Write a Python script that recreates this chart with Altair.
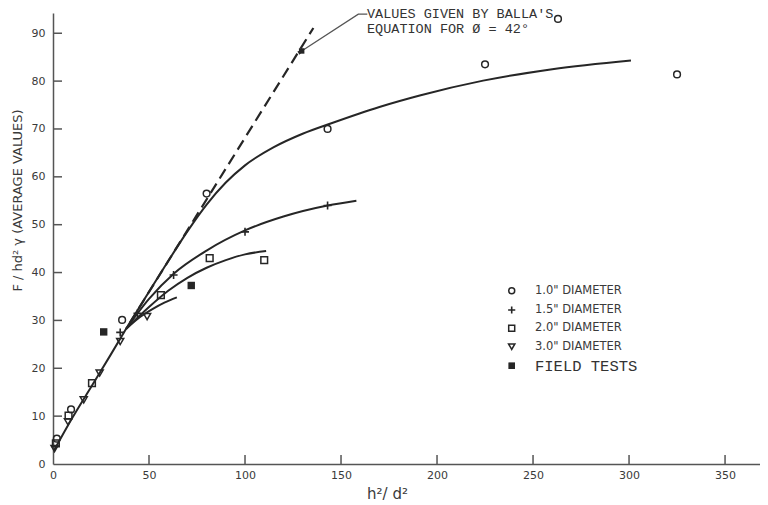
import altair as alt
import pandas as pd

# ---------------- data ----------------
# measured points (x = h^2/d^2, y = F/hd^2 gamma)
d10_x = [2, 9.4, 36, 80, 143, 225, 263, 325]
d10_y = [5.3, 11.4, 30.1, 56.5, 70, 83.5, 93, 81.4]
d15_x = [35, 44, 62.8, 100, 143]
d15_y = [27.5, 31.5, 39.5, 48.5, 54]
d20_x = [1.5, 8.1, 20.3, 56.2, 81.6, 110]
d20_y = [4.3, 10.1, 16.9, 35.3, 43, 42.6]
d30_x = [0.8, 7.8, 16, 24.3, 35, 49]
d30_y = [3.2, 8.8, 13.4, 19, 25.6, 30.8]
field_x = [26.4, 72]
field_y = [27.6, 37.3]
balla_x = [129.5]
balla_y = [86.3]

# fitted curves
trunk_x = [0.5, 10, 20, 30, 38]
trunk_y = [2.8, 9.6, 16.2, 22.8, 28.2]
fit10_x = [38, 50, 60, 70, 80, 90, 100, 115, 130, 145, 170, 191, 224, 260, 301]
fit10_y = [28.2, 36.0, 42.4, 48.6, 54.2, 58.8, 62.4, 66.2, 69.0, 71.2, 74.6, 77.0, 80.1, 82.5, 84.3]
fit15_x = [38, 50, 63, 80, 100, 120, 143, 158]
fit15_y = [28.2, 34.5, 39.8, 44.6, 48.8, 51.7, 54.0, 55.0]
fit20_x = [38, 50, 60, 70, 80, 90, 100, 111]
fit20_y = [28.2, 32.8, 36.2, 38.9, 41.0, 42.6, 43.8, 44.5]
fit30_x = [38, 45, 52, 58, 64.5]
fit30_y = [28.2, 30.6, 32.4, 33.7, 34.8]
balla_line_x = [40, 135.6]
balla_line_y = [29.5, 91.1]

# annotation leader (data coordinates)
lead_x = [163.7, 159, 129.5]
lead_y = [94.0, 94.0, 86.3]

# axis ticks / labels
x_ticks = [0, 50, 100, 150, 200, 250, 300, 350]
y_ticks = [0, 10, 20, 30, 40, 50, 60, 70, 80, 90]

legend_labels = ['1.0" DIAMETER', '1.5" DIAMETER', '2.0" DIAMETER', '3.0" DIAMETER', 'FIELD TESTS']
annot_lines = ["VALUES GIVEN BY BALLA'S", "EQUATION FOR Ø = 42°"]

# ---------------- chart ----------------
W, H = 707, 451
XMAX, YMAX = 368.2, 94.23
INK = "#262626"
TXT = "#3a3a3a"
SANS = "DejaVu Sans"
MONO = "Liberation Mono"

xs = alt.Scale(domain=[0, XMAX], nice=False, zero=False)
ys = alt.Scale(domain=[0, YMAX], nice=False, zero=False)

x_axis = alt.Axis(values=x_ticks, ticks=False, tickSize=0, grid=False, labelPadding=5,
                  labelFontSize=11, labelFont=SANS, labelColor=TXT, labelFlush=False,
                  domainColor="#555555", domainWidth=1.5,
                  title="h²/ d²", titleX=334, titleY=29, titleFontSize=15,
                  titleFontWeight="normal", titleColor=TXT, titleFont=SANS,
                  titleBaseline="middle", titleAlign="center")
y_axis = alt.Axis(values=y_ticks, ticks=False, tickSize=0, grid=False, labelPadding=8,
                  labelFontSize=11, labelFont=SANS, labelColor=TXT, labelFlush=False,
                  domainColor="#555555", domainWidth=1.5,
                  title="F / hd² γ  (AVERAGE VALUES)", titleX=-36, titleY=187,
                  titleAngle=270, titleFontSize=13, titleFontWeight="normal",
                  titleColor=TXT, titleFont=SANS, titleBaseline="middle", titleAlign="center")


def df(xv, yv):
    return pd.DataFrame({"x": xv, "y": yv})


def enc(chart):
    return chart.encode(x=alt.X("x:Q", scale=xs), y=alt.Y("y:Q", scale=ys))


base_axes = alt.Chart(df([0], [0])).mark_point(opacity=0).encode(
    x=alt.X("x:Q", scale=xs, axis=x_axis), y=alt.Y("y:Q", scale=ys, axis=y_axis))

layers = [base_axes]

# inward tick marks
layers.append(alt.Chart(pd.DataFrame({"x": x_ticks[1:]})).mark_rule(color="#555555", strokeWidth=1.5)
              .encode(x=alt.X("x:Q", scale=xs), y=alt.value(H), y2=alt.value(H - 9)))
layers.append(alt.Chart(pd.DataFrame({"y": y_ticks[1:]})).mark_rule(color="#555555", strokeWidth=1.5)
              .encode(y=alt.Y("y:Q", scale=ys), x=alt.value(0), x2=alt.value(9)))

# curves
for cx, cy in [(trunk_x, trunk_y), (fit10_x, fit10_y), (fit15_x, fit15_y),
               (fit20_x, fit20_y), (fit30_x, fit30_y)]:
    layers.append(enc(alt.Chart(df(cx, cy)).mark_line(color=INK, strokeWidth=2,
                                                        interpolate="monotone")))
layers.append(enc(alt.Chart(df(balla_line_x, balla_line_y)).mark_line(
    color=INK, strokeWidth=2.2, strokeDash=[11, 6])))
layers.append(enc(alt.Chart(df(lead_x, lead_y)).mark_line(color="#555555", strokeWidth=1.3)))

PLUS = "M-1,0L1,0M0,-1L0,1"
styles = [
    dict(shape="circle", size=45, filled=False, strokeWidth=1.5),
    dict(shape=PLUS, size=64, filled=False, strokeWidth=1.6),
    dict(shape="square", size=45, filled=False, strokeWidth=1.5),
    dict(shape="triangle-down", size=50, filled=False, strokeWidth=1.5),
    dict(shape="square", size=55, filled=True, strokeWidth=0),
]
series = [(d10_x, d10_y), (d15_x, d15_y), (d20_x, d20_y), (d30_x, d30_y), (field_x, field_y)]
for (sx, sy), st in zip(series, styles):
    layers.append(enc(alt.Chart(df(sx, sy)).mark_point(color=INK, opacity=1, **st)))

layers.append(enc(alt.Chart(df(balla_x, balla_y)).mark_point(
    shape="square", size=30, filled=True, color=INK, opacity=1)))
layers.append(enc(alt.Chart(df(balla_x, balla_y)).mark_point(
    shape="M0,-1L0.5,1L-0.5,1Z", size=60, filled=True, color=INK, opacity=1, angle=56)))

# annotation text
for i, line in enumerate(annot_lines):
    layers.append(alt.Chart(df([0], [0])).mark_text(
        align="left", baseline="middle", font=MONO, fontSize=13.5, color="#333333")
        .encode(x=alt.value(314), y=alt.value(0.8 + 14.8 * i), text=alt.value(line)))

# legend
for i, (lab, st) in enumerate(zip(legend_labels, styles)):
    yy = 277.7 + [0, 19.3, 37.6, 56, 75][i]
    s2 = dict(st)
    s2["size"] = st["size"] * 0.8
    layers.append(alt.Chart(df([0], [0])).mark_point(color=INK, opacity=1, **s2)
                  .encode(x=alt.value(458.7), y=alt.value(yy)))
    if i < 4:
        t = alt.Chart(df([0], [0])).mark_text(align="left", baseline="middle", font=SANS,
                                              fontSize=11.5, color=TXT)
    else:
        t = alt.Chart(df([0], [0])).mark_text(align="left", baseline="middle", font=MONO,
                                              fontSize=15.5, color="#333333")
    layers.append(t.encode(x=alt.value(482), y=alt.value(yy), text=alt.value(lab)))

chart = alt.layer(*layers).properties(
    width=W, height=H,
    autosize=alt.AutoSizeParams(type="none"),
    padding={"left": 45, "top": 5, "right": 0, "bottom": 37},
    background="white",
).configure_view(stroke=None)

chart.save("out.html", embed_options={"renderer": "svg", "actions": False})
